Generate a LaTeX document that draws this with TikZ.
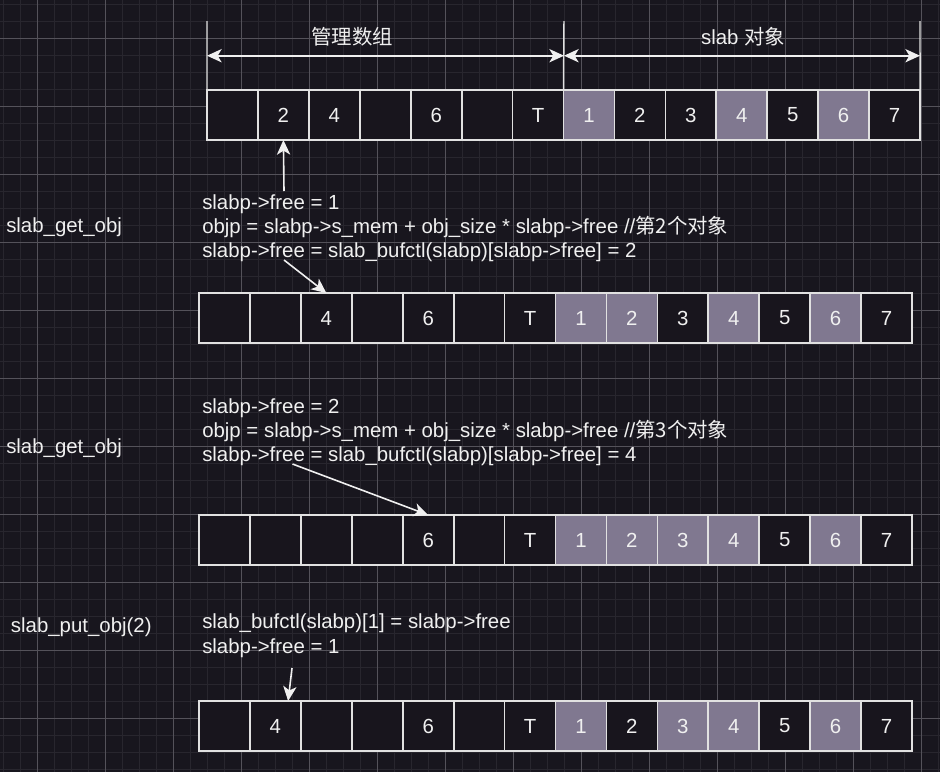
\documentclass[tikz,border=0pt]{standalone}
\usepackage{fontspec}
\setmainfont{Liberation Sans}
\newfontfamily\cjk{Noto Sans CJK SC}
\usetikzlibrary{arrows.meta,calc}
\definecolor{bg}{RGB}{24,22,30}
\definecolor{gminor}{RGB}{40,38,46}
\definecolor{gmajor}{RGB}{84,82,90}
\definecolor{pur}{RGB}{128,120,144}
\definecolor{dk}{RGB}{24,21,29}
\definecolor{fg}{RGB}{240,240,240}
\definecolor{ln}{RGB}{225,225,225}
\newcommand\cellrow[4]{%
  \foreach \t/\f [count=\i] in {#4} {
    \node[cellbox, fill=\f] (#1c\i) at ({#2+50.93*(\i-0.5)},{#3+25}) {\t};
  }%
}
\begin{document}
\begin{tikzpicture}[x=0.75pt,y=-0.75pt,
  font=\fontsize{15.3pt}{18.4pt}\selectfont,
  cellbox/.style={draw=ln, line width=1.3pt, minimum width=38.2pt, minimum height=37.5pt, inner sep=0pt, outer sep=0pt, text=fg},
  lbl/.style={anchor=base west, inner sep=0pt, text=fg},
  toplbl/.style={anchor=base, inner sep=0pt, text=fg},
  arr/.style={draw=fg, line width=1.2pt, -{Stealth[length=11pt,width=10pt,inset=3pt]}},
  dimarr/.style={draw=fg, line width=1.2pt, {Stealth[length=11pt,width=10pt,inset=3pt]}-{Stealth[length=11pt,width=10pt,inset=3pt]}},
  dimline/.style={draw=ln, line width=1.1pt},
  gmin/.style={draw=gminor, line width=0.75pt},
  gmaj/.style={draw=gmajor, line width=0.75pt}]
\fill[bg] (0,0) rectangle (940,772);
\useasboundingbox (0,0) rectangle (940,772);
% grid
\foreach \k in {0,...,55} \draw[gmin] ({3.3+17*\k},0) -- ({3.3+17*\k},772);
\foreach \k in {0,...,45} \draw[gmin] (0,{4.3+17*\k}) -- (940,{4.3+17*\k});
\foreach \k in {0,...,13} \draw[gmaj] ({37.3+68*\k},0) -- ({37.3+68*\k},772);
\foreach \k in {0,...,10} \draw[gmaj] (0,{38.3+68*\k}) -- (940,{38.3+68*\k});

% rows of cells
\cellrow{r1}{207}{90}{/dk,2/dk,4/dk,/dk,6/dk,/dk,T/dk,1/pur,2/dk,3/dk,4/pur,5/dk,6/pur,7/dk}
\cellrow{r2}{199}{293}{/dk,/dk,4/dk,/dk,6/dk,/dk,T/dk,1/pur,2/pur,3/dk,4/pur,5/dk,6/pur,7/dk}
\cellrow{r3}{199}{515}{/dk,/dk,/dk,/dk,6/dk,/dk,T/dk,1/pur,2/pur,3/pur,4/pur,5/dk,6/pur,7/dk}
\cellrow{r4}{199}{701}{/dk,4/dk,/dk,/dk,6/dk,/dk,T/dk,1/pur,2/dk,3/pur,4/pur,5/dk,6/pur,7/dk}

% dimension lines
\coordinate (d1) at (207,21);
\coordinate (d2) at (564,21);
\coordinate (d3) at (920,21);
\draw[dimline] (d1) -- (r1c1.north west);
\draw[dimline] (d2) -- (r1c8.north west);
\draw[dimline] (d3) -- (r1c14.north east);
\coordinate (da) at (207,55.7);
\coordinate (db) at (564,55.7);
\coordinate (dc) at (920,55.7);
\draw[dimarr] (da) -- (db);
\draw[dimarr] (db) -- (dc);
\node[toplbl] (lmgmt) at (352,44.5) {\cjk 管理数组};
\node[toplbl] (lobj) at (743,44.5) {slab {\cjk 对象}};

% left labels
\node[lbl] (op1) at (6,232.3) {slab\_get\_obj};
\node[lbl] (op2) at (6,453.5) {slab\_get\_obj};
\node[lbl] (op3) at (10.7,632.3) {slab\_put\_obj(2)};

% text blocks
\node[lbl] (t1a) at (202,209.3) {slabp->free = 1};
\node[lbl] (t1b) at (202,233.5) {objp = slabp->s\_mem + obj\_size * slabp->free //{\cjk 第2个对象}};
\node[lbl] (t1c) at (202,257.8) {slabp->free = slab\_bufctl(slabp)[slabp->free] = 2};
\node[lbl] (t2a) at (202,413.4) {slabp->free = 2};
\node[lbl] (t2b) at (202,437.6) {objp = slabp->s\_mem + obj\_size * slabp->free //{\cjk 第3个对象}};
\node[lbl] (t2c) at (202,461.8) {slabp->free = slab\_bufctl(slabp)[slabp->free] = 4};
\node[lbl] (t3a) at (202,628.3) {slab\_bufctl(slabp)[1] = slabp->free};
\node[lbl] (t3b) at (202,653.5) {slabp->free = 1};

% arrows
\coordinate (s1) at (284,191);
\draw[arr] (s1) -- (r1c2.south);
\coordinate (s2) at (284,260);
\draw[arr] (s2) -- (r2c3.north);
\coordinate (s3) at (292.5,464);
\draw[arr] (s3) -- (r3c5.north);
\coordinate (s4) at (292,668);
\draw[arr] (s4) -- ($(r4c2.north west)!0.75!(r4c2.north east)$);
\end{tikzpicture}
\end{document}
